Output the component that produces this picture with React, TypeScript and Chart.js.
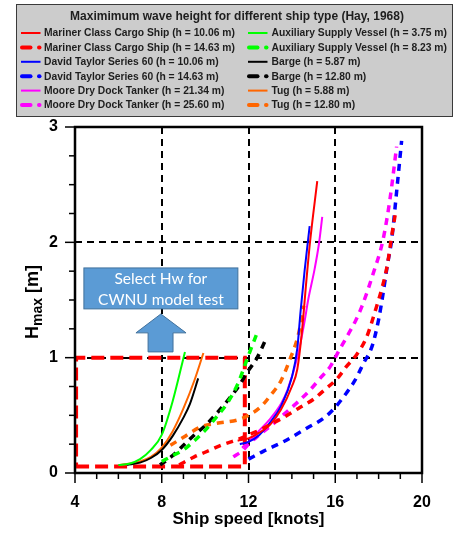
import React, { useEffect, useRef } from 'react';
import { Chart, registerables } from 'chart.js';

Chart.register(...registerables);

// ---------- data ----------
const legendTitle = 'Maximimum wave height for different ship type (Hay, 1968)';
const xTickValues = [4, 8, 12, 16, 20];
const yTickValues = [0, 1, 2, 3];
const xAxisTitle = 'Ship speed [knots]';

const marinerSolidSpeed = [11.5, 12.0, 12.5, 13.0, 13.5, 14.0, 14.25, 14.45, 14.67, 14.83, 15.17];
const marinerSolidH = [0.28, 0.30, 0.35, 0.42, 0.55, 0.75, 0.90, 1.20, 1.67, 1.99, 2.53];

const marinerDashSpeed = [8.8, 9.5, 10.0, 10.8, 11.5, 12.0, 12.5, 13.0, 13.6, 14.3, 15.0, 15.5, 16.1, 16.5, 17.0, 17.45, 17.9, 18.15, 18.4, 18.6, 18.8];
const marinerDashH = [0.07, 0.14, 0.18, 0.245, 0.29, 0.33, 0.37, 0.42, 0.48, 0.56, 0.64, 0.72, 0.82, 0.92, 1.03, 1.18, 1.44, 1.6, 1.8, 2.05, 2.28];

const taylorSolidSpeed = [11.6, 12.0, 12.5, 13.0, 13.5, 14.0, 14.25, 14.4, 14.59, 14.82];
const taylorSolidH = [0.25, 0.27, 0.33, 0.44, 0.58, 0.83, 1.08, 1.4, 1.76, 2.14];

const taylorDashSpeed = [12.0, 12.7, 13.6, 14.7, 15.5, 16.0, 16.5, 16.9, 17.3, 17.7, 18.0, 18.2, 18.4, 18.6, 18.83, 19.06];
const taylorDashH = [0.12, 0.19, 0.27, 0.39, 0.48, 0.57, 0.69, 0.8, 0.95, 1.1, 1.33, 1.55, 1.8, 2.02, 2.44, 2.88];

const mooreSolidSpeed = [11.7, 12.0, 12.5, 13.0, 13.5, 13.8, 14.3, 14.6, 14.75, 15.05, 15.25, 15.4];
const mooreSolidH = [0.22, 0.27, 0.37, 0.47, 0.6, 0.72, 1.04, 1.33, 1.5, 1.77, 1.99, 2.22];

const mooreDashSpeed = [11.3, 11.76, 12.0, 12.5, 13.1, 13.7, 14.3, 14.84, 15.3, 15.76, 16.14, 16.53, 16.91, 17.22, 17.75, 18.2, 18.52, 18.83];
const mooreDashH = [0.14, 0.2, 0.25, 0.33, 0.42, 0.52, 0.62, 0.72, 0.82, 0.92, 1.05, 1.18, 1.31, 1.44, 1.73, 2.02, 2.37, 2.83];

const auxSolidSpeed = [6.0, 6.5, 7.0, 7.5, 8.0, 8.5, 9.07];
const auxSolidH = [0.07, 0.08, 0.12, 0.2, 0.33, 0.62, 1.05];

const auxDashSpeed = [8.0, 8.5, 9.0, 9.5, 10.0, 10.5, 11.0, 11.5, 12.0, 12.45];
const auxDashH = [0.1, 0.15, 0.2, 0.28, 0.37, 0.48, 0.6, 0.77, 1.02, 1.24];

const bargeSolidSpeed = [6.4, 7.0, 7.5, 8.0, 8.5, 9.0, 9.3, 9.68];
const bargeSolidH = [0.07, 0.09, 0.13, 0.2, 0.32, 0.48, 0.6, 0.82];

const bargeDashSpeed = [7.92, 8.5, 9.0, 9.5, 10.0, 10.5, 11.0, 11.5, 12.0, 12.4, 12.85];
const bargeDashH = [0.07, 0.15, 0.24, 0.33, 0.41, 0.51, 0.62, 0.74, 0.89, 1.0, 1.18];

const tugSolidSpeed = [6.07, 7.0, 7.5, 8.0, 8.5, 9.0, 9.5, 9.92];
const tugSolidH = [0.07, 0.1, 0.14, 0.22, 0.36, 0.56, 0.8, 1.04];

const tugDashSpeed = [8.4, 9.0, 9.8, 10.5, 11.5, 12.0, 12.6, 13.0, 13.5, 13.9, 14.3, 14.55];
const tugDashH = [0.24, 0.31, 0.40, 0.43, 0.46, 0.5, 0.58, 0.67, 0.8, 0.98, 1.2, 1.45];

// selection window (red dashed rectangle)
const selectSpeed = [4.05, 11.83, 11.83, 4.05, 4.05];
const selectH = [0.057, 0.057, 1.0, 1.0, 0.057];

const boxLines = ['Select Hw for', 'CWNU model test'];

type Series = { label: string; xs: number[]; ys: number[]; color: string; dashed: boolean };

const seriesList: Series[] = [
  { label: 'Mariner Class Cargo Ship (h = 10.06 m)', xs: marinerSolidSpeed, ys: marinerSolidH, color: '#FF0000', dashed: false },
  { label: 'Mariner Class Cargo Ship (h = 14.63 m)', xs: marinerDashSpeed, ys: marinerDashH, color: '#FF0000', dashed: true },
  { label: 'David Taylor Series 60 (h = 10.06 m)', xs: taylorSolidSpeed, ys: taylorSolidH, color: '#0000FF', dashed: false },
  { label: 'David Taylor Series 60 (h = 14.63 m)', xs: taylorDashSpeed, ys: taylorDashH, color: '#0000FF', dashed: true },
  { label: 'Moore Dry Dock Tanker (h = 21.34 m)', xs: mooreSolidSpeed, ys: mooreSolidH, color: '#FF00FF', dashed: false },
  { label: 'Moore Dry Dock Tanker (h = 25.60 m)', xs: mooreDashSpeed, ys: mooreDashH, color: '#FF00FF', dashed: true },
  { label: 'Auxiliary Supply Vessel (h = 3.75 m)', xs: auxSolidSpeed, ys: auxSolidH, color: '#00FF00', dashed: false },
  { label: 'Auxiliary Supply Vessel (h = 8.23 m)', xs: auxDashSpeed, ys: auxDashH, color: '#00FF00', dashed: true },
  { label: 'Barge (h = 5.87 m)', xs: bargeSolidSpeed, ys: bargeSolidH, color: '#000000', dashed: false },
  { label: 'Barge (h = 12.80 m)', xs: bargeDashSpeed, ys: bargeDashH, color: '#000000', dashed: true },
  { label: 'Tug (h = 5.88 m)', xs: tugSolidSpeed, ys: tugSolidH, color: '#FF6600', dashed: false },
  { label: 'Tug (h = 12.80 m)', xs: tugDashSpeed, ys: tugDashH, color: '#FF6600', dashed: true },
];

const FONT = '"Liberation Sans", Arial, Helvetica, sans-serif';

const framePlugin = {
  id: 'frame',
  beforeDatasetsDraw(chart: any) {
    const { ctx, chartArea: a, scales } = chart;
    const xs = scales.x, ys = scales.y;
    ctx.save();
    ctx.strokeStyle = '#000';
    ctx.lineWidth = 2;
    ctx.setLineDash([7, 5]);
    [8, 12, 16].forEach((v) => {
      const px = Math.round(xs.getPixelForValue(v));
      ctx.beginPath();
      ctx.moveTo(px, a.top);
      ctx.lineTo(px, a.bottom);
      ctx.stroke();
    });
    [1, 2].forEach((v) => {
      const py = Math.round(ys.getPixelForValue(v));
      ctx.beginPath();
      ctx.moveTo(a.left, py);
      ctx.lineTo(a.right, py);
      ctx.stroke();
    });
    ctx.restore();
  },
  afterDatasetsDraw(chart: any) {
    const { ctx, chartArea: a, scales } = chart;
    const xs = scales.x, ys = scales.y;
    ctx.save();
    // text box
    const bx0 = xs.getPixelForValue(4.41), bx1 = xs.getPixelForValue(11.51);
    const by0 = ys.getPixelForValue(1.778), by1 = ys.getPixelForValue(1.423);
    ctx.fillStyle = '#5B9BD5';
    ctx.strokeStyle = '#41719C';
    ctx.lineWidth = 1;
    ctx.setLineDash([]);
    ctx.fillRect(bx0, by0, bx1 - bx0, by1 - by0);
    ctx.strokeRect(bx0, by0, bx1 - bx0, by1 - by0);
    ctx.fillStyle = '#ffffff';
    ctx.font = '15.5px Lato, "Open Sans", sans-serif';
    ctx.textAlign = 'center';
    ctx.textBaseline = 'middle';
    const cx = (bx0 + bx1) / 2;
    ctx.fillText(boxLines[0], cx, by0 + 11.5);
    ctx.fillText(boxLines[1], cx, by0 + 32);
    // arrow
    const P = (x: number, y: number) => [xs.getPixelForValue(x), ys.getPixelForValue(y)];
    const pts = [
      P(7.96, 1.379), P(9.12, 1.215), P(8.52, 1.215), P(8.52, 1.05),
      P(7.37, 1.05), P(7.37, 1.215), P(6.81, 1.215),
    ];
    ctx.beginPath();
    pts.forEach(([x, y], i) => (i ? ctx.lineTo(x, y) : ctx.moveTo(x, y)));
    ctx.closePath();
    ctx.fillStyle = '#5B9BD5';
    ctx.fill();
    ctx.strokeStyle = '#41719C';
    ctx.stroke();

    // frame
    ctx.strokeStyle = '#000';
    ctx.lineWidth = 2.5;
    ctx.strokeRect(a.left, a.top, a.right - a.left, a.bottom - a.top);
    // ticks
    ctx.lineWidth = 1.5;
    for (let v = 4; v <= 20; v += 1) {
      const px = xs.getPixelForValue(v);
      const len = v % 4 === 0 ? 10 : 6;
      ctx.beginPath();
      ctx.moveTo(px, a.bottom);
      ctx.lineTo(px, a.bottom + len);
      ctx.stroke();
    }
    for (let k = 0; k <= 12; k++) {
      const v = k * 0.25;
      const py = ys.getPixelForValue(v);
      const len = k % 4 === 0 ? 10 : 6;
      ctx.beginPath();
      ctx.moveTo(a.left, py);
      ctx.lineTo(a.left - len, py);
      ctx.stroke();
    }
    ctx.restore();
  },
  afterDraw(chart: any) {
    const { ctx, chartArea: a, data } = chart;
    ctx.save();
    // axis titles
    ctx.fillStyle = '#000';
    ctx.font = `bold 17px ${FONT}`;
    ctx.textAlign = 'center';
    ctx.textBaseline = 'alphabetic';
    ctx.fillText(xAxisTitle, (a.left + a.right) / 2, 524);

    ctx.translate(32, 302);
    ctx.rotate(-Math.PI / 2);
    const big = `bold 18px ${FONT}`;
    const small = `bold 14px ${FONT}`;
    ctx.font = big;
    const wH = ctx.measureText('H').width;
    const wM = ctx.measureText(' [m]').width;
    ctx.font = small;
    const wS = ctx.measureText('max').width;
    let x = -(wH + wS + wM) / 2;
    ctx.textAlign = 'left';
    ctx.font = big;
    ctx.fillText('H', x, 6);
    x += wH;
    ctx.font = small;
    ctx.fillText('max', x, 10);
    x += wS;
    ctx.font = big;
    ctx.fillText(' [m]', x, 6);
    ctx.restore();

    // legend box
    ctx.save();
    ctx.fillStyle = '#cccccc';
    ctx.fillRect(16, 4, 437, 112.5);
    ctx.strokeStyle = '#3a3a3a';
    ctx.lineWidth = 1;
    ctx.strokeRect(16.5, 4.5, 436, 112);
    ctx.fillStyle = '#1e1e1e';
    ctx.font = `bold 12px ${FONT}`;
    ctx.textAlign = 'center';
    ctx.textBaseline = 'middle';
    ctx.fillText(legendTitle, 237, 17);
    ctx.font = `bold 10.3px ${FONT}`;
    ctx.textAlign = 'left';
    const dsets = data.datasets.slice(0, 12);
    dsets.forEach((ds: any, i: number) => {
      const col = i < 6 ? 0 : 1;
      const row = i % 6;
      const y = 33 + row * 14.4;
      const x0 = col === 0 ? 21 : 248;
      const tx = col === 0 ? 44 : 271.5;
      ctx.strokeStyle = ds.borderColor;
      if (ds.borderDash && ds.borderDash.length) {
        ctx.lineWidth = 4;
        ctx.lineCap = 'round';
        ctx.beginPath();
        ctx.moveTo(x0 + 1, y);
        ctx.lineTo(x0 + 9.5, y);
        ctx.stroke();
        ctx.beginPath();
        ctx.moveTo(x0 + 18, y);
        ctx.lineTo(x0 + 18.5, y);
        ctx.stroke();
        ctx.lineCap = 'butt';
      } else {
        ctx.lineWidth = 2;
        ctx.beginPath();
        ctx.moveTo(x0, y);
        ctx.lineTo(x0 + 19.5, y);
        ctx.stroke();
      }
      ctx.fillStyle = '#1e1e1e';
      ctx.fillText(ds.label, tx, y + 0.5);
    });
    ctx.restore();
  },
};

export default function App() {
  const ref = useRef<HTMLCanvasElement | null>(null);

  useEffect(() => {
    document.body.style.margin = '0';
    const canvas = ref.current;
    if (!canvas) return;

    const datasets: any[] = seriesList.map((s) => ({
      label: s.label,
      data: s.xs.map((x, i) => ({ x, y: s.ys[i] })),
      borderColor: s.color,
      backgroundColor: s.color,
      borderWidth: s.dashed ? 3.5 : 2,
      borderDash: s.dashed ? [7, 6] : [],
      pointRadius: 0,
      fill: false,
      cubicInterpolationMode: 'monotone',
    }));
    datasets.push({
      label: 'Selection',
      data: selectSpeed.map((x, i) => ({ x, y: selectH[i] })),
      borderColor: '#FF0000',
      backgroundColor: '#FF0000',
      borderWidth: 4,
      borderDash: [13, 6],
      pointRadius: 0,
      fill: false,
      tension: 0,
      clip: 4,
    });

    const chart = new Chart(canvas, {
      type: 'line',
      data: { datasets },
      plugins: [framePlugin],
      options: {
        responsive: false,
        animation: false,
        devicePixelRatio: 1,
        layout: { padding: { top: 127, right: 32, left: 0, bottom: 0 } },
        plugins: { legend: { display: false }, tooltip: { enabled: false }, title: { display: false } },
        scales: {
          x: {
            type: 'linear',
            min: 4,
            max: 20,
            afterBuildTicks: (scale: any) => {
              scale.ticks = xTickValues.map((v) => ({ value: v }));
            },
            afterFit: (scale: any) => {
              scale.height = 60;
            },
            grid: { display: false, drawTicks: false },
            border: { display: false },
            ticks: {
              color: '#000',
              font: { family: FONT, size: 16, weight: 'bold' },
              padding: 20,
              maxRotation: 0,
            },
          },
          y: {
            type: 'linear',
            min: 0,
            max: 3,
            afterBuildTicks: (scale: any) => {
              scale.ticks = yTickValues.map((v) => ({ value: v }));
            },
            afterFit: (scale: any) => {
              scale.width = 75;
            },
            grid: { display: false, drawTicks: false },
            border: { display: false },
            ticks: {
              color: '#000',
              font: { family: FONT, size: 16, weight: 'bold' },
              padding: 17,
            },
          },
        },
      } as any,
    });
    return () => chart.destroy();
  }, []);

  return (
    <div style={{ width: 454, height: 533 }}>
      <canvas ref={ref} width={454} height={533} style={{ display: 'block', width: 454, height: 533 }} />
    </div>
  );
}
